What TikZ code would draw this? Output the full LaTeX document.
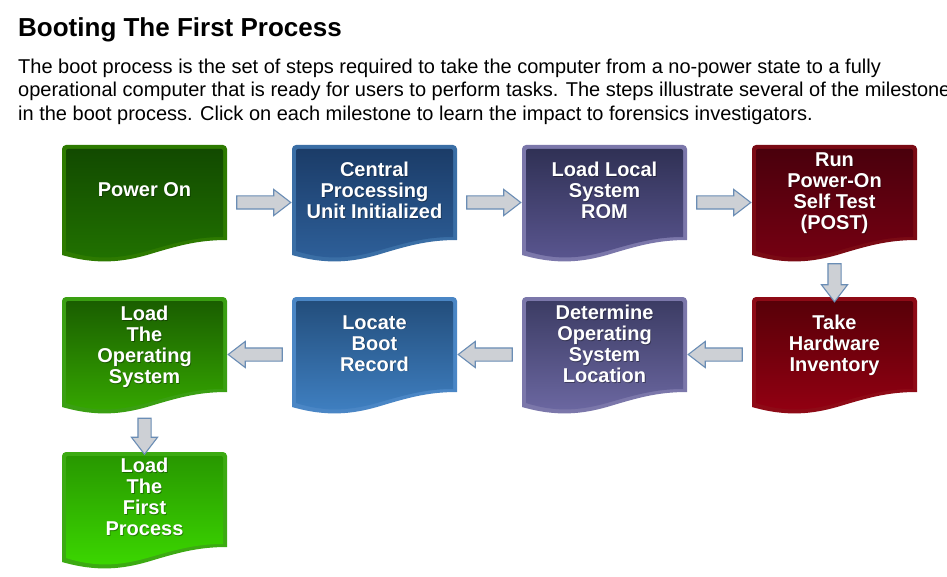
\documentclass[tikz,border=0pt]{standalone}
\usepackage{fontspec}
\setmainfont{Liberation Sans}
\usetikzlibrary{shapes.arrows,calc}
\definecolor{bPow}{HTML}{2D7A00}\definecolor{tPow}{HTML}{124A00}\definecolor{uPow}{HTML}{217200}
\definecolor{bCpu}{HTML}{3A6EA5}\definecolor{tCpu}{HTML}{1B3C68}\definecolor{uCpu}{HTML}{2E609A}
\definecolor{bRom}{HTML}{7B77AA}\definecolor{tRom}{HTML}{303155}\definecolor{uRom}{HTML}{5A5690}
\definecolor{bPst}{HTML}{7A0A14}\definecolor{tPst}{HTML}{4A000C}\definecolor{uPst}{HTML}{760012}
\definecolor{bHw}{HTML}{8E0A16}\definecolor{tHw}{HTML}{580008}\definecolor{uHw}{HTML}{930012}
\definecolor{bDet}{HTML}{7B77AA}\definecolor{tDet}{HTML}{3C3C64}\definecolor{uDet}{HTML}{6C68A2}
\definecolor{bLoc}{HTML}{4A86C5}\definecolor{tLoc}{HTML}{234E7C}\definecolor{uLoc}{HTML}{3F80C2}
\definecolor{bLos}{HTML}{3A9F12}\definecolor{tLos}{HTML}{1A5E00}\definecolor{uLos}{HTML}{36A800}
\definecolor{bFir}{HTML}{3CAA12}\definecolor{tFir}{HTML}{289800}\definecolor{uFir}{HTML}{3CD800}
\definecolor{arrFill}{HTML}{CDD0D5}\definecolor{arrDraw}{HTML}{6A8DB5}
\newcommand\topstrut{\rule{0pt}{15pt}}
\newcommand\botstrut{\rule[-5pt]{0pt}{5pt}}
\tikzset{
  box/.style={minimum width=165pt,minimum height=115pt,inner sep=0pt,outer sep=0pt,anchor=north west},
  boxtext/.style={text=white,align=center,inner sep=0pt,font=\bfseries\fontsize{20}{21}\selectfont},
  boxshadow/.style={boxtext,text=black,opacity=0.35},
  barrow/.style={single arrow,draw=arrDraw,fill=arrFill,line width=1.1pt,inner sep=0pt,
    text height=6pt,text depth=6pt,text width=0pt,
    minimum width=25pt,single arrow head extend=6.5pt,single arrow head indent=0pt,
    single arrow tip angle=75,anchor=center},
}
\newcommand\docshape[6]{%
  \begin{scope}[shift={(#1.north west)}]
    \fill[#2,rounded corners=4pt] (0,110) -- (0,0) -- (165,0) [sharp corners] -- (165,95)
      .. controls (135,95) and (115,101) .. (85,110)
      .. controls (60,117) and (35,120) .. (0,110) -- cycle;
    \shade[top color=#3,bottom color=#4,rounded corners=2pt] (4,106) -- (4,4) -- (161,4) [sharp corners] -- (161,92)
      .. controls (133,92) and (113,98) .. (85,106)
      .. controls (60,113) and (35,116) .. (4,106) -- cycle;
  \end{scope}
  \node[boxshadow] (#1s) at ([xshift=0.8pt,yshift=#5pt-0.8pt]#1.center) {\topstrut#6\botstrut};%
  \node[boxtext] (#1t) at ([yshift=#5pt]#1.center) {\topstrut#6\botstrut};%
}
\begin{document}
\begin{tikzpicture}[x=1pt,y=-1pt]
\path[use as bounding box] (0,0) rectangle (947,577);
\clip (0,0) rectangle (947,577);
\fill[white] (0,0) rectangle (947,577);
\node[anchor=base west,inner sep=0pt,font=\bfseries\fontsize{26}{30}\selectfont] (title) at (18,37) {Booting The First Process};
\node[anchor=base west,inner sep=0pt,font=\fontsize{20}{24}\selectfont] (l1) at (18,73.5) {The boot process is the set of steps required to take the computer from a no-power state to a fully};
\node[anchor=base west,inner sep=0pt,font=\fontsize{20}{24}\selectfont] (l2) at (18,97) {operational computer that is ready for users to perform tasks. The steps illustrate several of the milestones};
\node[anchor=base west,inner sep=0pt,font=\fontsize{20}{24}\selectfont] (l3) at (18,120.5) {in the boot process. Click on each milestone to learn the impact to forensics investigators.};

\node[box] (n1) at (62,145) {};
\node[box] (n2) at (292,145) {};
\node[box] (n3) at (522,145) {};
\node[box] (n4) at (752,145) {};
\node[box] (n5) at (752,297) {};
\node[box] (n6) at (522,297) {};
\node[box] (n7) at (292,297) {};
\node[box] (n8) at (62,297) {};
\node[box] (n9) at (62,452) {};

\docshape{n1}{bPow}{tPow}{uPow}{10.5}{Power On}
\docshape{n2}{bCpu}{tCpu}{uCpu}{9.5}{Central\\Processing\\Unit Initialized}
\docshape{n3}{bRom}{tRom}{uRom}{9.5}{Load Local\\System\\ROM}
\docshape{n4}{bPst}{tPst}{uPst}{9.5}{Run\\Power-On\\Self Test\\(POST)}
\docshape{n5}{bHw}{tHw}{uHw}{9.5}{Take\\Hardware\\Inventory}
\docshape{n6}{bDet}{tDet}{uDet}{8.5}{Determine\\Operating\\System\\Location}
\docshape{n7}{bLoc}{tLoc}{uLoc}{9.5}{Locate\\Boot\\Record}
\docshape{n8}{bLos}{tLos}{uLos}{7.5}{Load\\The\\Operating\\System}
\docshape{n9}{bFir}{tFir}{uFir}{10.5}{Load\\The\\First\\Process}

\node[barrow,minimum height=54pt] (a12) at ($(n1.east)!0.5!(n2.west)$) {};
\node[barrow,minimum height=54pt] (a23) at ($(n2.east)!0.5!(n3.west)$) {};
\node[barrow,minimum height=54pt] (a34) at ($(n3.east)!0.5!(n4.west)$) {};
\node[barrow,minimum height=38pt,rotate=-90] (a45) at ($(n4.south)!0.5!(n5.north)$) {};
\node[barrow,minimum height=54pt,rotate=180] (a56) at ($(n5.west)!0.5!(n6.east)$) {};
\node[barrow,minimum height=54pt,rotate=180] (a67) at ($(n6.west)!0.5!(n7.east)$) {};
\node[barrow,minimum height=54pt,rotate=180] (a78) at ($(n7.west)!0.5!(n8.east)$) {};
\node[barrow,minimum height=36pt,rotate=-90] (a89) at ($(n8.south)!0.5!(n9.north)$) {};
\end{tikzpicture}
\end{document}
